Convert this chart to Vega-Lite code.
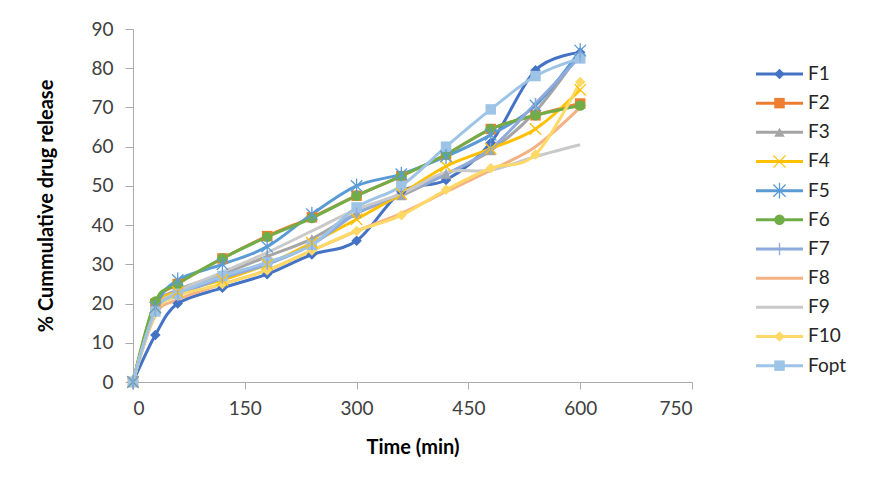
{
  "$schema": "https://vega.github.io/schema/vega-lite/v6.json",
  "padding": {"left": 36, "top": 20, "right": 5, "bottom": 5},
  "background": "white",
  "config": {"view": {"stroke": null}, "font": "Lato", "concat": {"spacing": 61}},
  "datasets": {
    "curves": [
      {"series":"F1","t":0,"v":0},{"series":"F1","t":30,"v":12},{"series":"F1","t":60,"v":20},{"series":"F1","t":120,"v":24},{"series":"F1","t":180,"v":27.5},{"series":"F1","t":240,"v":32.5},{"series":"F1","t":300,"v":36},{"series":"F1","t":360,"v":48.5},{"series":"F1","t":420,"v":51.5},{"series":"F1","t":480,"v":61},{"series":"F1","t":540,"v":79.5},{"series":"F1","t":600,"v":84},
      {"series":"F2","t":0,"v":0},{"series":"F2","t":30,"v":20},{"series":"F2","t":60,"v":25},{"series":"F2","t":120,"v":31.5},{"series":"F2","t":180,"v":37.2},{"series":"F2","t":240,"v":42},{"series":"F2","t":300,"v":47.5},{"series":"F2","t":360,"v":52.5},{"series":"F2","t":420,"v":58},{"series":"F2","t":480,"v":64.5},{"series":"F2","t":540,"v":68},{"series":"F2","t":600,"v":71},
      {"series":"F3","t":0,"v":0},{"series":"F3","t":30,"v":19},{"series":"F3","t":60,"v":23.5},{"series":"F3","t":120,"v":27.5},{"series":"F3","t":180,"v":32},{"series":"F3","t":240,"v":36.5},{"series":"F3","t":300,"v":43},{"series":"F3","t":360,"v":47.5},{"series":"F3","t":420,"v":53},{"series":"F3","t":480,"v":59},{"series":"F3","t":540,"v":69},{"series":"F3","t":600,"v":84},
      {"series":"F4","t":0,"v":0},{"series":"F4","t":30,"v":19},{"series":"F4","t":60,"v":23},{"series":"F4","t":120,"v":26},{"series":"F4","t":180,"v":30},{"series":"F4","t":240,"v":35.5},{"series":"F4","t":300,"v":41.5},{"series":"F4","t":360,"v":48},{"series":"F4","t":420,"v":55},{"series":"F4","t":480,"v":59.5},{"series":"F4","t":540,"v":64.5},{"series":"F4","t":600,"v":74.5},
      {"series":"F5","t":0,"v":0},{"series":"F5","t":30,"v":19},{"series":"F5","t":60,"v":26},{"series":"F5","t":120,"v":30},{"series":"F5","t":180,"v":34.5},{"series":"F5","t":240,"v":42.8},{"series":"F5","t":300,"v":50},{"series":"F5","t":360,"v":53},{"series":"F5","t":420,"v":57.5},{"series":"F5","t":480,"v":63},{"series":"F5","t":540,"v":70.5},{"series":"F5","t":600,"v":84.5},
      {"series":"F6","t":0,"v":0},{"series":"F6","t":30,"v":20.5},{"series":"F6","t":60,"v":25},{"series":"F6","t":120,"v":31.5},{"series":"F6","t":180,"v":37},{"series":"F6","t":240,"v":41.8},{"series":"F6","t":300,"v":47.5},{"series":"F6","t":360,"v":52.5},{"series":"F6","t":420,"v":58},{"series":"F6","t":480,"v":64.5},{"series":"F6","t":540,"v":68},{"series":"F6","t":600,"v":70.5},
      {"series":"F7","t":0,"v":0},{"series":"F7","t":30,"v":18},{"series":"F7","t":60,"v":22},{"series":"F7","t":120,"v":26.5},{"series":"F7","t":180,"v":30},{"series":"F7","t":240,"v":35},{"series":"F7","t":300,"v":43},{"series":"F7","t":360,"v":48},{"series":"F7","t":420,"v":53},{"series":"F7","t":480,"v":59.5},{"series":"F7","t":540,"v":71},{"series":"F7","t":600,"v":83},
      {"series":"F8","t":0,"v":0},{"series":"F8","t":30,"v":17},{"series":"F8","t":60,"v":21},{"series":"F8","t":120,"v":25},{"series":"F8","t":180,"v":28.5},{"series":"F8","t":240,"v":33.5},{"series":"F8","t":300,"v":38.5},{"series":"F8","t":360,"v":43},{"series":"F8","t":420,"v":48.5},{"series":"F8","t":480,"v":54},{"series":"F8","t":540,"v":60},{"series":"F8","t":600,"v":70},
      {"series":"F9","t":0,"v":0},{"series":"F9","t":30,"v":18},{"series":"F9","t":60,"v":23},{"series":"F9","t":120,"v":28},{"series":"F9","t":180,"v":33},{"series":"F9","t":240,"v":38.5},{"series":"F9","t":300,"v":44},{"series":"F9","t":360,"v":48},{"series":"F9","t":420,"v":53.5},{"series":"F9","t":480,"v":54},{"series":"F9","t":540,"v":57.5},{"series":"F9","t":600,"v":60.5},
      {"series":"F10","t":0,"v":0},{"series":"F10","t":30,"v":17.5},{"series":"F10","t":60,"v":22},{"series":"F10","t":120,"v":25},{"series":"F10","t":180,"v":28.5},{"series":"F10","t":240,"v":33.5},{"series":"F10","t":300,"v":38.5},{"series":"F10","t":360,"v":42.5},{"series":"F10","t":420,"v":49},{"series":"F10","t":480,"v":54.5},{"series":"F10","t":540,"v":58},{"series":"F10","t":600,"v":76.5},
      {"series":"Fopt","t":0,"v":0},{"series":"Fopt","t":30,"v":18},{"series":"Fopt","t":60,"v":22.5},{"series":"Fopt","t":120,"v":27},{"series":"Fopt","t":180,"v":30.5},{"series":"Fopt","t":240,"v":35},{"series":"Fopt","t":300,"v":44.5},{"series":"Fopt","t":360,"v":50},{"series":"Fopt","t":420,"v":60},{"series":"Fopt","t":480,"v":69.5},{"series":"Fopt","t":540,"v":78},{"series":"Fopt","t":600,"v":82.5}
    ],
    "legend": [
      {"series":"F1"},{"series":"F2"},{"series":"F3"},{"series":"F4"},{"series":"F5"},{"series":"F6"},{"series":"F7"},{"series":"F8"},{"series":"F9"},{"series":"F10"},{"series":"Fopt"}
    ]
  },
  "hconcat": [
    {
      "width": 559,
      "height": 353,
      "data": {"name": "curves"},
      "encoding": {
        "x": {"field": "t", "type": "quantitative",
          "scale": {"domain": [0, 750], "nice": false, "zero": false},
          "axis": {"values": [0,150,300,450,600,750], "title": "Time (min)", "grid": false,
            "domainColor": "#ABABAB", "tickColor": "#ABABAB", "tickSize": 7, "labelPadding": 10,
            "labelFontSize": 19, "labelColor": "#404040", "labelFont": "Lato",
            "titleFontSize": 20, "titleFont": "Lato", "titleFontWeight": "bold", "titleColor": "#000000", "titlePadding": 19}},
        "y": {"field": "v", "type": "quantitative",
          "scale": {"domain": [0, 90], "nice": false},
          "axis": {"values": [0,10,20,30,40,50,60,70,80,90], "title": "% Cummulative drug release", "grid": false,
            "domainColor": "#ABABAB", "tickColor": "#ABABAB", "tickSize": 8, "labelPadding": 12,
            "labelFontSize": 19, "labelColor": "#404040", "labelFont": "Lato",
            "titleFontSize": 20, "titleFont": "Lato", "titleFontWeight": "bold", "titleColor": "#000000", "titlePadding": 34}},
        "color": {"field": "series", "type": "nominal", "legend": null,
          "scale": {"domain": ["F1","F2","F3","F4","F5","F6","F7","F8","F9","F10","Fopt"],
            "range": ["#4472C4","#ED7D31","#A5A5A5","#FFC000","#5B9BD5","#70AD47","#8FAADC","#F4B183","#C9C9C9","#FFD966","#9DC3E6"]}}
      },
      "layer": [
        {"mark": {"type": "line", "interpolate": "cardinal", "strokeWidth": 3}},
        {
          "transform": [{"filter": {"field": "series", "oneOf": ["F1","F2","F3","F6","F10","Fopt"]}}],
          "mark": {"type": "point", "filled": true, "opacity": 1},
          "encoding": {
            "shape": {"field": "series", "type": "nominal", "legend": null,
              "scale": {"domain": ["F1","F2","F3","F4","F5","F6","F7","F8","F9","F10","Fopt"],
                "range": ["diamond","square","triangle-up","M-1,-1L1,1M-1,1L1,-1","M-1,-1L1,1M-1,1L1,-1M0,-1.3L0,1.3","circle","M0,-1L0,1","circle","circle","diamond","square"]}},
            "size": {"value": 110}
          }
        },
        {
          "transform": [{"filter": {"field": "series", "oneOf": ["F4","F5","F7"]}}],
          "mark": {"type": "point", "filled": false, "opacity": 1, "strokeWidth": 1.3},
          "encoding": {
            "shape": {"field": "series", "type": "nominal", "legend": null},
            "size": {"value": 130}
          }
        }
      ]
    },
    {
      "width": 120,
      "height": 350,
      "data": {"name": "legend"},
      "encoding": {
        "y": {"field": "series", "type": "ordinal", "sort": null,
          "scale": {"type": "point", "padding": 1, "align": 0.771, "domain": ["F1","F2","F3","F4","F5","F6","F7","F8","F9","F10","Fopt"]},
          "axis": null},
        "color": {"field": "series", "type": "nominal", "legend": null}
      },
      "layer": [
        {"mark": {"type": "rule", "strokeWidth": 3},
         "encoding": {"x": {"datum": 0, "type": "quantitative", "scale": {"domain": [0, 120], "nice": false}, "axis": null}, "x2": {"datum": 47}}},
        {"transform": [{"filter": {"field": "series", "oneOf": ["F1","F2","F3","F6","F10","Fopt"]}}],
         "mark": {"type": "point", "filled": true, "opacity": 1},
         "encoding": {"x": {"datum": 23.5, "type": "quantitative"},
           "shape": {"field": "series", "type": "nominal", "legend": null,
              "scale": {"domain": ["F1","F2","F3","F4","F5","F6","F7","F8","F9","F10","Fopt"],
                "range": ["diamond","square","triangle-up","M-1,-1L1,1M-1,1L1,-1","M-1,-1L1,1M-1,1L1,-1M0,-1.3L0,1.3","circle","M0,-1L0,1","circle","circle","diamond","square"]}},
           "size": {"value": 110}}},
        {"transform": [{"filter": {"field": "series", "oneOf": ["F4","F5","F7"]}}],
         "mark": {"type": "point", "filled": false, "opacity": 1, "strokeWidth": 1.3},
         "encoding": {"x": {"datum": 23.5, "type": "quantitative"},
           "shape": {"field": "series", "type": "nominal", "legend": null},
           "size": {"value": 150}}},
        {"mark": {"type": "text", "align": "left", "baseline": "middle", "fontSize": 19, "font": "Lato", "color": "#262626"},
         "encoding": {"x": {"datum": 52, "type": "quantitative"}, "text": {"field": "series"}, "color": {"value": "#262626"}}}
      ]
    }
  ]
}
